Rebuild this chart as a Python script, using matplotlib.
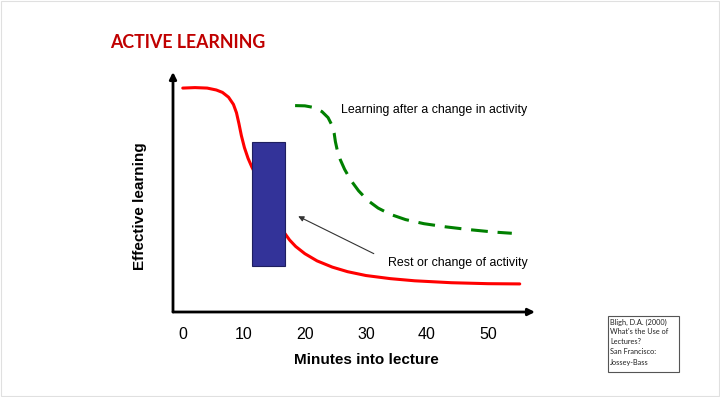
import matplotlib.pyplot as plt
from matplotlib.patches import Rectangle

# minutes / effective learning (arbitrary 0-100 scale)
lecture_x = [0, 2, 4, 5.5, 6.5, 7.5, 8.3, 8.8, 9.2, 9.6, 10.1, 10.7, 11.3, 12, 14,
             16.7, 17.5, 18.5, 20, 22, 24.5, 27, 30, 34, 38, 44, 50, 55.2]
lecture_y = [93.3, 93.5, 93.3, 92.5, 91.5, 89.5, 86.5, 83, 78.5, 73.5, 68.5, 64, 60.5, 57, 42,
             32.8, 30, 27.3, 24.3, 21.3, 18.7, 16.8, 15.2, 13.9, 13, 12.2, 11.8, 11.7]

after_x = [18.4, 20, 21.5, 22.8, 23.8, 24.4, 24.8, 25, 25.3, 25.8, 26.5, 27.5, 28.8,
           30.3, 32, 34, 36.5, 39.5, 43, 47, 51, 53.9]
after_y = [86, 85.9, 85.2, 83.5, 81, 78, 74.5, 71, 67.5, 63.5, 59.5, 55, 50.5,
           46.5, 43.3, 40.7, 38.5, 36.8, 35.5, 34.3, 33.3, 32.8]

break_start, break_end = 11.4, 16.7
break_low, break_high = 19.3, 71

xticks = [0, 10, 20, 30, 40, 50]

citation = ["Bligh, D.A. (2000)", "What's the Use of", "Lectures?", "San Francisco:", "Jossey-Bass"]

fig = plt.figure(figsize=(7.2, 3.97), dpi=100)
W, H = 720, 397

# faint slide border
fig.add_artist(Rectangle((0.001, 0.002), 0.997, 0.996, transform=fig.transFigure,
                         fill=False, edgecolor="#e0e0e0", linewidth=0.8))

ax = fig.add_axes([173 / W, (H - 312) / H, (535 - 173) / W, 240 / H])
ax.set_xlim(-1.6, 57.7)
ax.set_ylim(0, 100)
for s in ax.spines.values():
    s.set_visible(False)
ax.set_yticks([])
ax.set_xticks(xticks)
ax.tick_params(axis="x", length=0, pad=11, labelsize=11.5)
for lab in ax.get_xticklabels():
    lab.set_fontfamily("Liberation Sans")

# axis arrows
ax.annotate("", xy=(1.0, 0), xytext=(0, 0), xycoords="axes fraction",
            arrowprops=dict(arrowstyle="-|>", color="black", lw=2, mutation_scale=10,
                            shrinkA=0, shrinkB=0))
ax.annotate("", xy=(0, 1.0), xytext=(0, 0), xycoords="axes fraction",
            arrowprops=dict(arrowstyle="-|>", color="black", lw=2, mutation_scale=10,
                            shrinkA=0, shrinkB=0))

ax.plot(lecture_x, lecture_y, color="#ff0000", lw=2.2, solid_capstyle="round",
        solid_joinstyle="round")
ax.plot(after_x, after_y, color="#008000", lw=2.2, dashes=(5.5, 3.2))

ax.add_patch(Rectangle((break_start, break_low), break_end - break_start,
                       break_high - break_low, facecolor="#333399",
                       edgecolor="#1f1f5f", lw=0.8, zorder=3))

ax.annotate("", xy=(18.5, 40.4), xytext=(31.7, 23.8),
            arrowprops=dict(arrowstyle="-|>", color="#333333", lw=0.8, mutation_scale=8))
ax.text(26, 84, "Learning after a change in activity", fontsize=8.9,
        family="Liberation Sans", va="center", ha="left")
ax.text(33.6, 20.6, "Rest or change of activity", fontsize=8.9,
        family="Liberation Sans", va="center", ha="left")

fig.text(140 / W, 1 - 206 / H, "Effective learning", rotation=90, fontsize=11,
         fontweight="bold", family="Liberation Sans", ha="center", va="center")
fig.text(366 / W, 1 - 360 / H, "Minutes into lecture", fontsize=11,
         fontweight="bold", family="Liberation Sans", ha="center", va="center")

fig.text(110 / W, 1 - 42 / H, "ACTIVE LEARNING", fontsize=12.8, fontweight="bold",
         family="Lato", color="#c00000", ha="left", va="center")

# citation box
fig.add_artist(Rectangle((608 / W, 1 - 372 / H), 71 / W, 56 / H, transform=fig.transFigure,
                         fill=False, edgecolor="#555555", linewidth=0.8))
for i, line in enumerate(citation):
    fig.text(610 / W, 1 - (322 + 10 * i) / H, line, fontsize=5.3, family="Lato",
             ha="left", va="center", color="#222222")

fig.savefig("out.png", dpi=100)
